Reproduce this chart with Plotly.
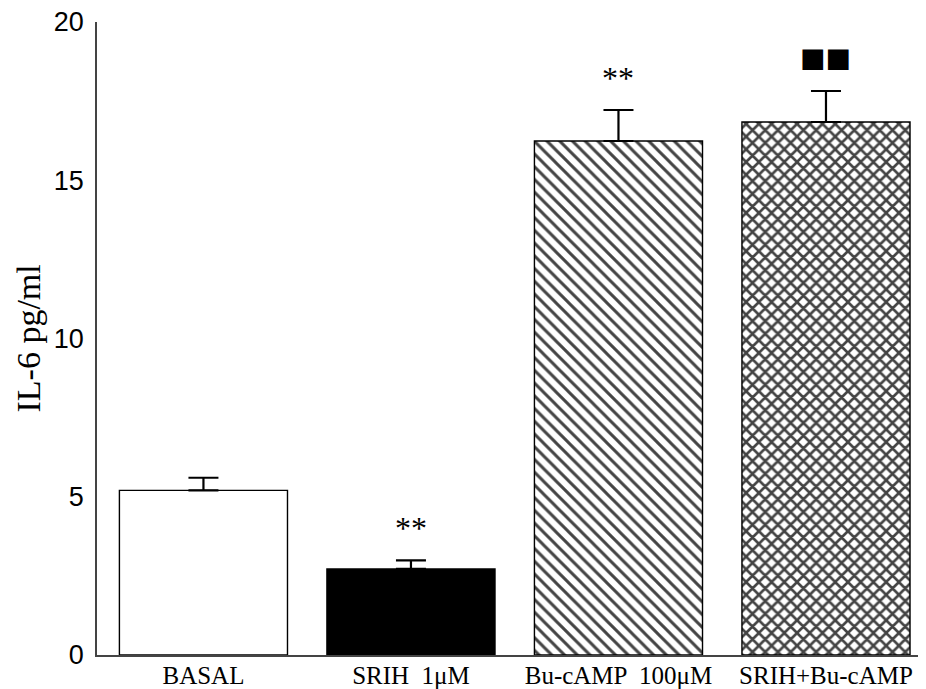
import plotly.graph_objects as go

categories = ["BASAL", "SRIH  1μM", "Bu-cAMP  100μM", "SRIH+Bu-cAMP"]
values = [5.2, 2.72, 16.24, 16.84]
errors = [0.4, 0.27, 0.98, 0.98]
significance = ["", "**", "**", "■■"]
y_ticks = [0, 5, 10, 15, 20]
y_title = "IL-6 pg/ml"

fill_colors = ["white", "black", "white", "white"]
pattern_shapes = ["", "", "\\", "x"]
pattern_solidity = [0.2, 0.2, 0.33, 0.5]

# the page body adds an 8px offset; compensate so the plot sits where the reference does
PAGE_OFFSET = 8

fig = go.Figure()
fig.add_trace(go.Bar(
    x=categories,
    y=values,
    width=0.81,
    marker=dict(
        color=fill_colors,
        line=dict(color="black", width=1.4),
        pattern=dict(shape=pattern_shapes, fgcolor="black", bgcolor="white",
                     fgopacity=1, size=9, solidity=pattern_solidity,
                     fillmode="overlay"),
    ),
    error_y=dict(type="data", symmetric=False, array=errors,
                 arrayminus=[0] * len(errors), color="black",
                 thickness=2.2, width=15),
    showlegend=False,
))

for cat, v, e, s in zip(categories, values, errors, significance):
    if not s:
        continue
    is_square = s.startswith("■")
    fig.add_annotation(
        x=cat, y=v + e, xref="x", yref="y",
        text=s, showarrow=False,
        yanchor="bottom", yshift=16 if is_square else 12,
        font=dict(family="DejaVu Sans" if is_square else "Liberation Serif",
                  size=27 if is_square else 32, color="black"),
    )

fig.add_annotation(
    text=y_title, xref="paper", yref="paper", x=0, y=0.5,
    xanchor="center", yanchor="middle", xshift=-69, textangle=-90,
    showarrow=False, borderpad=0,
    font=dict(family="Liberation Serif", size=34, color="black"),
)

fig.update_layout(
    width=926 - PAGE_OFFSET, height=689 - PAGE_OFFSET,
    margin=dict(l=97 - PAGE_OFFSET, r=0, t=22 - PAGE_OFFSET, b=34,
                autoexpand=False),
    paper_bgcolor="white", plot_bgcolor="white",
    xaxis=dict(
        type="category", range=[-0.513, 3.482], automargin=False,
        showline=True, linecolor="#444", linewidth=1.5,
        showgrid=False, ticks="", zeroline=False,
        tickfont=dict(family="Liberation Serif", size=25, color="black"),
        ticklabelstandoff=-3, ticklabeloverflow="allow",
    ),
    yaxis=dict(
        range=[0, 20], tickvals=y_ticks, automargin=False,
        showline=True, linecolor="#444", linewidth=1.5,
        showgrid=False, ticks="", zeroline=False,
        tickfont=dict(family="Liberation Sans", size=27, color="black"),
        ticklabelstandoff=6, ticklabeloverflow="allow",
    ),
)

fig.write_html("out.html")
